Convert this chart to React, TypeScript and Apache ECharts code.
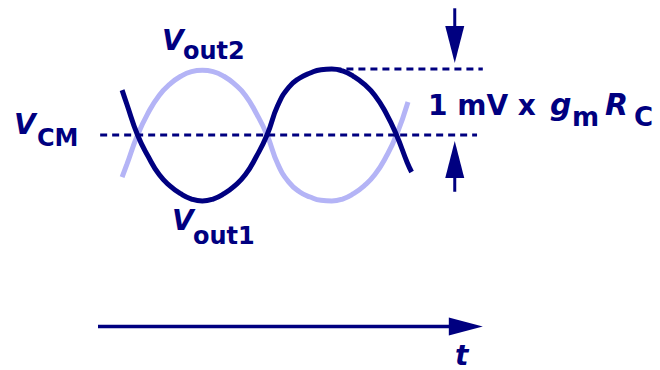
import React, { useEffect, useRef } from "react";
import * as echarts from "echarts";

// Phase (degrees) and level (units of 1 mV x gmRC around VCM) for each output.
const vout1Phase = [-21.5, -15, 0, 15, 30, 45, 60, 75, 90, 105, 120, 135, 150, 165, 180, 195, 210, 225, 240, 255, 270, 285, 300, 315, 330, 345, 360, 375, 381];
const vout1Level = [0.68, 0.47, 0, -0.33, -0.6, -0.77, -0.89, -0.97, -1.0, -0.97, -0.89, -0.77, -0.6, -0.33, 0, 0.45, 0.72, 0.86, 0.94, 0.99, 1.0, 0.97, 0.89, 0.77, 0.6, 0.34, 0, -0.42, -0.56];

const vout2Phase = [-21.5, -15, 0, 15, 30, 45, 60, 75, 90, 105, 120, 135, 150, 165, 180, 195, 210, 225, 240, 255, 270, 285, 300, 315, 330, 345, 360, 376];
const vout2Level = [-0.64, -0.45, 0, 0.34, 0.6, 0.77, 0.89, 0.96, 0.98, 0.96, 0.89, 0.77, 0.6, 0.33, 0, -0.44, -0.71, -0.86, -0.94, -0.99, -1.0, -0.97, -0.89, -0.77, -0.6, -0.34, 0, 0.5];

// Reference levels: common mode and the positive peak.
const vcmSpan = [-52, 472];
const vcmLevel = 0;
const peakSpan = [257, 480];
const peakLevel = 1;

// Dimension arrows: [phase, tail level, level pointed at].
const swingArrows = [
  [441, 1.92, 1],
  [441, -0.86, 0],
];

// Time axis: [start phase, level, end phase, level].
const timeAxis = [[-55, -2.9, 480, -2.9]];

const NAVY = "#000080";
const LAVENDER = "#b4b4f6";
const FONT = "'DejaVu Sans', 'Liberation Sans', sans-serif";

function arrowSeries(data: number[][], gap: number, headLen: number, headHalf: number, width: number, fourCols: boolean) {
  return {
    type: "custom",
    z: 5,
    silent: true,
    data,
    renderItem: (_params: any, api: any) => {
      const a: number[] = api.coord([api.value(0), api.value(1)]);
      const b: number[] = fourCols
        ? api.coord([api.value(2), api.value(3)])
        : api.coord([api.value(0), api.value(2)]);
      const dx = b[0] - a[0];
      const dy = b[1] - a[1];
      const len = Math.hypot(dx, dy) || 1;
      const ux = dx / len;
      const uy = dy / len;
      const tip = [b[0] - ux * gap, b[1] - uy * gap];
      const base = [tip[0] - ux * headLen, tip[1] - uy * headLen];
      const px = -uy;
      const py = ux;
      return {
        type: "group",
        children: [
          {
            type: "line",
            shape: { x1: a[0], y1: a[1], x2: base[0] + ux * 2, y2: base[1] + uy * 2 },
            style: { stroke: NAVY, lineWidth: width },
          },
          {
            type: "polygon",
            shape: {
              points: [
                tip,
                [base[0] + px * headHalf, base[1] + py * headHalf],
                [base[0] - px * headHalf, base[1] - py * headHalf],
              ],
            },
            style: { fill: NAVY },
          },
        ],
      };
    },
  };
}

function label(text: string, x: number, y: number, size: number, italic: boolean) {
  return {
    type: "text",
    x,
    y,
    silent: true,
    style: {
      text,
      fill: NAVY,
      font: `${italic ? "italic " : ""}bold ${size}px ${FONT}`,
      align: "left",
      verticalAlign: "middle",
    },
  };
}

export default function App() {
  const ref = useRef<HTMLDivElement>(null);

  useEffect(() => {
    if (!ref.current) return;
    const chart = echarts.init(ref.current, undefined, { renderer: "svg" });

    const dashed = { color: NAVY, width: 3, type: [7, 5] as number[] };

    chart.setOption({
      animation: false,
      backgroundColor: "#ffffff",
      grid: { left: 98, right: 177.2, top: 36, bottom: 43.6 },
      xAxis: { type: "value", min: -55, max: 480, show: false },
      yAxis: { type: "value", min: -2.9, max: 1.5, show: false },
      series: [
        {
          name: "Vout2",
          type: "line",
          data: vout2Phase.map((p, i) => [p, vout2Level[i]]),
          smooth: 0.5,
          symbol: "none",
          clip: false,
          z: 1,
          lineStyle: { color: LAVENDER, width: 5, cap: "butt" },
        },
        {
          name: "VCM",
          type: "line",
          data: vcmSpan.map((p) => [p, vcmLevel]),
          symbol: "none",
          clip: false,
          z: 2,
          lineStyle: dashed,
        },
        {
          name: "peak",
          type: "line",
          data: peakSpan.map((p) => [p, peakLevel]),
          symbol: "none",
          clip: false,
          z: 2,
          lineStyle: dashed,
        },
        {
          name: "Vout1",
          type: "line",
          data: vout1Phase.map((p, i) => [p, vout1Level[i]]),
          smooth: 0.5,
          symbol: "none",
          clip: false,
          z: 3,
          lineStyle: { color: NAVY, width: 5, cap: "butt" },
        },
        arrowSeries(swingArrows, 6, 37, 9.5, 3, false),
        arrowSeries(timeAxis, 0, 34, 9, 3.5, true),
      ],
      graphic: [
        label("V", 14, 124, 28, true),
        label("CM", 37, 138, 24, false),
        label("V", 162, 40, 28, true),
        label("out2", 183, 51, 24, false),
        label("V", 172, 220, 28, true),
        label("out1", 193, 236, 24, false),
        label("1 mV x", 428, 105, 28, false),
        label("g", 550, 104.5, 30, true),
        label("m", 572, 117, 26, false),
        label("R", 605, 104.5, 30, true),
        label("C", 634, 117, 26, false),
        label("t", 455, 355, 28, true),
      ],
    });

    return () => chart.dispose();
  }, []);

  return (
    <div
      ref={ref}
      style={{ position: "fixed", left: 0, top: 0, width: 660, height: 370, background: "#fff" }}
    />
  );
}
